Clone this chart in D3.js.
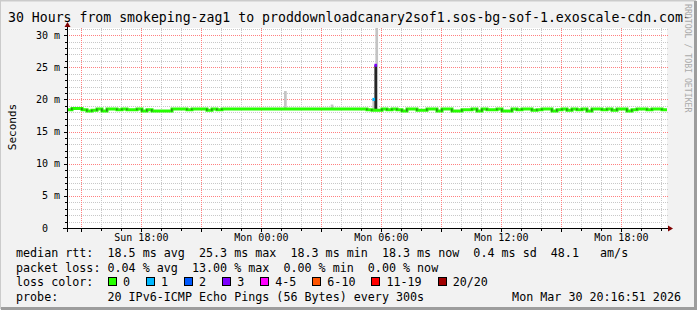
<!DOCTYPE html>
<html>
<head>
<meta charset="utf-8">
<script src="https://cdn.jsdelivr.net/npm/d3@7"></script>
<style>
  html, body { margin: 0; padding: 0; background: #f2f2f2; }
  svg text { font-family: "DejaVu Sans Mono", monospace; white-space: pre; }
</style>
</head>
<body>
<div id="chart"></div>
<script>
// smokeping style latency graph, 30 hours, median rtt + smoke + loss colors

const title = "30 Hours from smokeping-zag1 to proddownloadcanary2sof1.sos-bg-sof-1.exoscale-cdn.com-";
const startTime = new Date(Date.UTC(2026, 2, 29, 14, 16, 51));
const endTime = new Date(Date.UTC(2026, 2, 30, 20, 16, 51));
const binMinutes = 15;

// median rtt (ms), one value per 15 minutes
const medianMs = [
  18.4, 18.6, 18.6, 18.4, 18.2, 18.3, 18.5, 18.2, 18.5, 18.5,
  18.4, 18.5, 18.4, 18.4, 18.5, 18.2, 18.4, 18.2, 18.2, 18.2,
  18.2, 18.5, 18.5, 18.5, 18.4, 18.5, 18.5, 18.5, 18.3, 18.5,
  18.4, 18.5, 18.5, 18.5, 18.5, 18.5, 18.5, 18.5, 18.5, 18.5,
  18.5, 18.5, 18.5, 18.5, 18.5, 18.5, 18.5, 18.5, 18.5, 18.5,
  18.5, 18.5, 18.5, 18.5, 18.5, 18.5, 18.5, 18.5, 18.5, 18.5,
  18.4, 18.3, 18.3, 18.5, 18.4, 18.5, 18.4, 18.2, 18.5, 18.5,
  18.3, 18.3, 18.5, 18.5, 18.2, 18.5, 18.5, 18.2, 18.2, 18.4,
  18.4, 18.5, 18.2, 18.5, 18.4, 18.4, 18.5, 18.2, 18.2, 18.5,
  18.4, 18.5, 18.5, 18.3, 18.4, 18.5, 18.5, 18.2, 18.4, 18.5,
  18.3, 18.5, 18.4, 18.5, 18.2, 18.5, 18.5, 18.4, 18.5, 18.3,
  18.5, 18.5, 18.2, 18.4, 18.5, 18.5, 18.4, 18.5, 18.5, 18.4
];

// single 5 minute steps with visible smoke
const spikeTimes = ["2026-03-30T01:08:00Z", "2026-03-30T03:28:00Z", "2026-03-30T05:33:00Z", "2026-03-30T05:39:00Z"];
const spikeLowMs = [18.5, 18.5, 18.3, 18.2];
const spikeDenseMs = [18.5, 18.5, 18.3, 25.3];
const spikeHighMs = [21.3, 19.2, 20.0, 31.1];
const spikeMedianMs = [null, null, 20.0, 25.3];
const spikeLoss = [0, 0, 1, 3];

const yTicks = [0, 5, 10, 15, 20, 25, 30];
const lossLabels = ["0", "1", "2", "3", "4-5", "6-10", "11-19", "20/20"];
const lossColors = ["#26ff00", "#00b8ff", "#0059ff", "#7e00ff", "#ff00ff", "#ff5500", "#ff0000", "#a10000"];

const rttLine = "median rtt:  18.5 ms avg  25.3 ms max  18.3 ms min  18.3 ms now  0.4 ms sd  48.1   am/s";
const lossLine = "packet loss: 0.04 % avg  13.00 % max  0.00 % min  0.00 % now";
const probeLine = "probe:       20 IPv6-ICMP Echo Pings (56 Bytes) every 300s";
const stampLine = "Mon Mar 30 20:16:51 2026";

// dimensions
const width = 697;
const height = 310;
const plotLeft = 67;
const plotRight = 667;
const plotTop = 28;
const plotBottom = 228;

const svg = d3.select("#chart").append("svg")
    .attr("width", width)
    .attr("height", height)
    .attr("viewBox", [0, 0, width, height])
    .style("display", "block");

// background and 3d border
svg.append("rect").attr("width", width).attr("height", height).attr("fill", "#f2f2f2");
svg.append("path").attr("d", `M0,${height - 1}V0.5H${width - 1}`)
    .attr("fill", "none").attr("stroke", "#cbcbcb").attr("stroke-width", 2);
svg.append("path").attr("d", `M${width - 1.5},1V${height - 1.5}H1`)
    .attr("fill", "none").attr("stroke", "#9d9d9d").attr("stroke-width", 3);

const x = d3.scaleUtc()
    .domain([startTime, endTime])
    .range([plotLeft, plotRight]);

const y = d3.scaleLinear()
    .domain([0, 31.1])
    .range([plotBottom, plotTop]);

// canvas
svg.append("rect")
    .attr("x", plotLeft).attr("y", plotTop)
    .attr("width", plotRight - plotLeft).attr("height", plotBottom - plotTop)
    .attr("fill", "#fff");

// grid
const hourTicks = x.ticks(d3.utcHour.every(1));
const majorHours = x.ticks(d3.utcHour.every(3)).map(d => +d);
const msTicks = y.ticks(31);

const grid = svg.append("g").attr("shape-rendering", "crispEdges");
grid.selectAll(".hgrid")
    .data(msTicks.filter(d => d > 0))
    .join("line")
    .attr("x1", plotLeft).attr("x2", plotRight + 1)
    .attr("y1", d => Math.round(y(d)) + 0.5).attr("y2", d => Math.round(y(d)) + 0.5)
    .attr("stroke", d => d % 5 === 0 ? "#ff8080" : "#c8c8c8")
    .attr("stroke-dasharray", "1,1");
grid.selectAll(".vgrid")
    .data(hourTicks)
    .join("line")
    .attr("x1", d => Math.round(x(d)) + 0.5).attr("x2", d => Math.round(x(d)) + 0.5)
    .attr("y1", plotTop).attr("y2", plotBottom)
    .attr("stroke", d => majorHours.includes(+d) ? "#ff8080" : "#c8c8c8")
    .attr("stroke-dasharray", "1,1");

// smoke for the single steps
const stepMs = 5 * 60 * 1000;
const spikes = spikeTimes.map((t, i) => ({
  t: new Date(t), lo: spikeLowMs[i], dense: spikeDenseMs[i], hi: spikeHighMs[i],
  med: spikeMedianMs[i], loss: spikeLoss[i]
}));
const stepW = d => x(new Date(+d.t + stepMs)) - x(d.t) + 1;

svg.append("g").selectAll("rect")
    .data(spikes)
    .join("rect")
    .attr("x", d => x(d.t) + (d.dense > d.lo ? 1 : 0)).attr("width", stepW)
    .attr("y", d => y(d.hi)).attr("height", d => y(d.lo) - y(d.hi))
    .attr("fill", "#c4c4c4");
svg.append("g").selectAll("rect")
    .data(spikes.filter(d => d.dense > d.lo))
    .join("rect")
    .attr("x", d => x(d.t)).attr("width", stepW)
    .attr("y", d => y(d.dense)).attr("height", d => y(d.lo) - y(d.dense))
    .attr("fill", "#262626");

// median line
const binTime = i => new Date(+startTime + i * binMinutes * 60 * 1000);
const pts = medianMs.map((v, i) => [binTime(i), v]);
pts.push([endTime, medianMs[medianMs.length - 1]]);

svg.append("path")
    .datum(pts)
    .attr("fill", "none")
    .attr("stroke", lossColors[0])
    .attr("stroke-width", 3)
    .attr("d", d3.line().x(d => x(d[0])).y(d => y(d[1])).curve(d3.curveStepAfter));

// dark smoke peeking out where the median changes
const changes = medianMs.map((v, i) => ({ i, a: medianMs[i - 1], b: v }))
    .filter(d => d.i > 0 && d.a !== d.b);
svg.append("g").selectAll("rect")
    .data(changes)
    .join("rect")
    .attr("x", d => x(binTime(d.i)) - 1)
    .attr("width", 1.6)
    .attr("y", d => y(Math.max(d.a, d.b)) - 0.5)
    .attr("height", d => y(Math.min(d.a, d.b)) - y(Math.max(d.a, d.b)) + 1)
    .attr("fill", "#333")
    .attr("opacity", 0.6);

// median marks of the spike steps, coloured by loss
svg.append("g").selectAll("rect")
    .data(spikes.filter(d => d.med != null))
    .join("rect")
    .attr("x", d => x(d.t)).attr("width", stepW)
    .attr("y", d => y(d.med) - 1.5).attr("height", 3)
    .attr("fill", d => lossColors[d.loss]);

// axes
const axes = svg.append("g").attr("shape-rendering", "crispEdges");
axes.append("line")
    .attr("x1", plotLeft - 4).attr("x2", plotRight + 2)
    .attr("y1", plotBottom + 0.5).attr("y2", plotBottom + 0.5)
    .attr("stroke", "#000");
axes.append("line")
    .attr("x1", plotLeft + 0.5).attr("x2", plotLeft + 0.5)
    .attr("y1", plotBottom + 4).attr("y2", plotTop - 2)
    .attr("stroke", "#000");
axes.selectAll(".xt")
    .data(hourTicks)
    .join("line")
    .attr("x1", d => Math.round(x(d)) + 0.5).attr("x2", d => Math.round(x(d)) + 0.5)
    .attr("y1", plotBottom).attr("y2", d => plotBottom + (majorHours.includes(+d) ? 4 : 3))
    .attr("stroke", "#000");
axes.selectAll(".yt")
    .data(msTicks)
    .join("line")
    .attr("y1", d => Math.round(y(d)) + 0.5).attr("y2", d => Math.round(y(d)) + 0.5)
    .attr("x1", d => plotLeft - (d % 5 === 0 ? 3 : 2)).attr("x2", plotLeft)
    .attr("stroke", "#000");

// arrows
svg.append("path")
    .attr("d", `M${plotRight + 1},${plotBottom - 2.5}L${plotRight + 6},${plotBottom + 0.5}L${plotRight + 1},${plotBottom + 3.5}Z`)
    .attr("fill", "#7f0000");
svg.append("path")
    .attr("d", `M${plotLeft - 2.5},${plotTop - 1}L${plotLeft + 0.5},${plotTop - 6}L${plotLeft + 3.5},${plotTop - 1}Z`)
    .attr("fill", "#7f0000");

// tick labels
svg.append("g").selectAll("text")
    .data(yTicks)
    .join("text")
    .attr("x", 60)
    .attr("y", d => y(d) + 3.5)
    .attr("text-anchor", "end")
    .attr("font-size", 10)
    .attr("fill", "#000")
    .text(d => d === 0 ? "0  " : `${d} m`);

const fmt = d3.utcFormat("%a %H:%M");
svg.append("g").selectAll("text")
    .data(x.ticks(d3.utcHour.every(6)))
    .join("text")
    .attr("x", d => x(d))
    .attr("y", 241)
    .attr("text-anchor", "middle")
    .attr("font-size", 10)
    .attr("fill", "#000")
    .text(fmt);

svg.append("text")
    .attr("transform", "translate(15.5,127) rotate(-90)")
    .attr("text-anchor", "middle")
    .attr("font-size", 11)
    .attr("fill", "#000")
    .text("Seconds");

// title and watermark
svg.append("text")
    .attr("x", 8).attr("y", 22)
    .attr("font-size", 13.2)
    .attr("fill", "#000")
    .text(title);

svg.append("text")
    .attr("transform", "translate(685,4) rotate(90)")
    .attr("font-size", 8.2)
    .attr("fill", "#aaa")
    .text("RRDTOOL / TOBI OETIKER");

// legend
const legendFont = 11.7;
const legend = svg.append("g").attr("font-size", legendFont).attr("fill", "#000");
legend.append("text").attr("x", 16).attr("y", 257).text(rttLine);
legend.append("text").attr("x", 16).attr("y", 271.5).text(lossLine);
legend.append("text").attr("x", 16).attr("y", 286).text("loss color:");
legend.append("text").attr("x", 16).attr("y", 300.5).text(probeLine);
legend.append("text").attr("x", 681).attr("y", 300.5).attr("text-anchor", "end").text(stampLine);

let bx = 108;
lossLabels.forEach((lab, i) => {
  legend.append("rect")
      .attr("x", bx + 0.5).attr("y", 277.5)
      .attr("width", 8).attr("height", 8)
      .attr("fill", lossColors[i])
      .attr("stroke", "#000")
      .attr("shape-rendering", "crispEdges");
  const t = legend.append("text").attr("x", bx + 15).attr("y", 286).text(lab);
  bx = bx + 15 + t.node().getComputedTextLength() + 16;
});
</script>
</body>
</html>
